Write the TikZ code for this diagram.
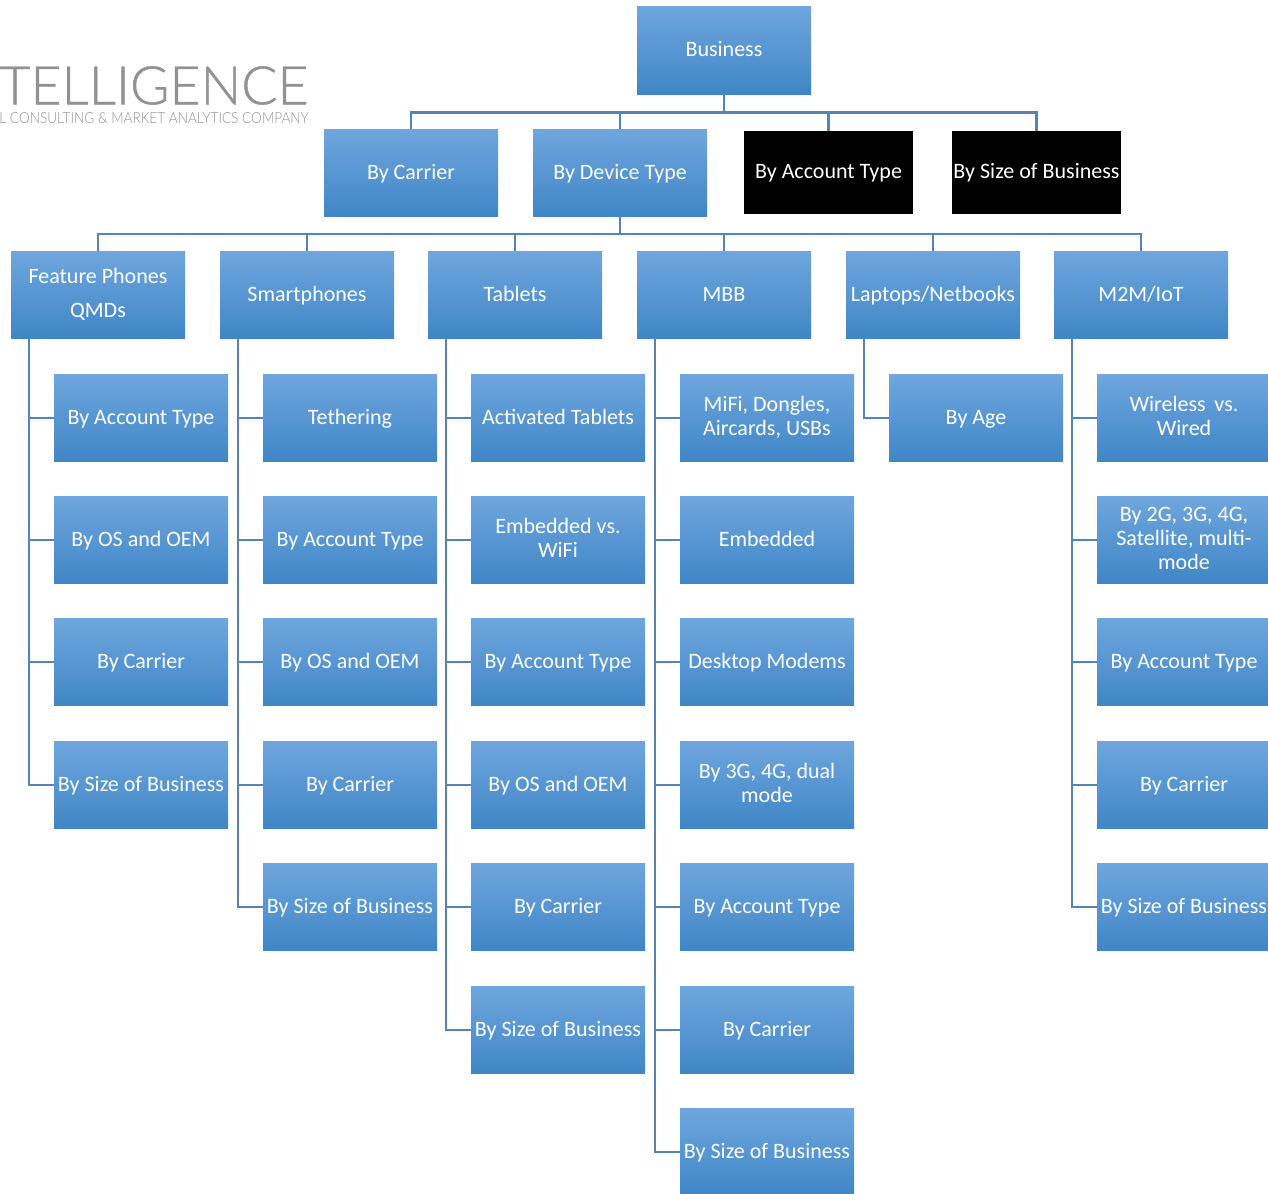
\documentclass[tikz,border=0pt]{standalone}
\usepackage{graphicx}
\usepackage{fontspec}
\setmainfont{Carlito}
\newfontfamily\logofont[FakeBold=0.8]{Lato Light}
\newfontfamily\logosubfont{Lato Light}
\definecolor{boxtop}{HTML}{6FA6DE}
\definecolor{boxbot}{HTML}{3F86C6}
\definecolor{linkcol}{HTML}{5285B5}
\definecolor{logocol}{HTML}{929294}
\tikzset{
  evenline/.style={execute at begin node={\rule{0pt}{12.1pt}},execute at end node={\vphantom{Ay}}},
  multi/.style={execute at begin node={\rule{0pt}{13.6pt}},execute at end node={\vphantom{Ay}}},
  box/.style={minimum width=130.5pt,minimum height=65.5pt,inner sep=0pt,top color=boxtop,bottom color=boxbot,text=white,align=center,evenline,font=\fontsize{16.5}{18}\selectfont},
  wide/.style={font=\fontsize{16.5}{25.5}\selectfont},
  blackbox/.style={minimum width=126.5pt,minimum height=62pt,inner sep=0pt,fill=black,text=white,align=center,evenline,font=\fontsize{16.5}{18}\selectfont},
  link/.style={draw=linkcol,line width=2pt},
}
\begin{document}
\begin{tikzpicture}[x=0.75pt,y=-0.75pt]
\clip (0,0) rectangle (1268,1193);
\fill[white] (0,0) rectangle (1268,1193);
% logo
\node[anchor=east,inner sep=0pt,text=logocol] (logo) at (309,85.5) {\logofont\resizebox{232pt}{28.5pt}{TELLIGENCE}};
\node[anchor=east,inner sep=0pt,text=logocol] (logosub) at (309,118.5) {\logosubfont\resizebox{232pt}{8.2pt}{L CONSULTING \& MARKET ANALYTICS COMPANY}};
% top
\node[box] (biz) at (724,50.5) {Business};
\node[box] (carrier) at (411,173) {By Carrier};
\node[box] (device) at (620,173) {By Device Type};
\node[blackbox] (account) at (828.5,172.5) {By Account Type};
\node[blackbox] (size) at (1036.5,172.5) {By Size of Business};
% second level
\node[box,wide,multi] (pa) at (98,295) {Feature Phones\\QMDs};
\node[box] (pb) at (307,295) {Smartphones};
\node[box] (pc) at (515,295) {Tablets};
\node[box] (pd) at (724,295) {MBB};
\node[box] (pe) at (933,295) {Laptops/Netbooks};
\node[box] (pf) at (1141,295) {M2M/IoT};
% col a
\node[box] (a1) at (141,418) {By Account Type};
\node[box] (a2) at (141,540) {By OS and OEM};
\node[box] (a3) at (141,662) {By Carrier};
\node[box] (a4) at (141,785) {By Size of Business};
% col b
\node[box] (b1) at (350,418) {Tethering};
\node[box] (b2) at (350,540) {By Account Type};
\node[box] (b3) at (350,662) {By OS and OEM};
\node[box] (b4) at (350,785) {By Carrier};
\node[box] (b5) at (350,907) {By Size of Business};
% col c
\node[box] (c1) at (558,418) {Activated Tablets};
\node[box,multi] (c2) at (558,540) {Embedded vs.\\WiFi};
\node[box] (c3) at (558,662) {By Account Type};
\node[box] (c4) at (558,785) {By OS and OEM};
\node[box] (c5) at (558,907) {By Carrier};
\node[box] (c6) at (558,1030) {By Size of Business};
% col d
\node[box,multi] (d1) at (767,418) {MiFi, Dongles,\\Aircards, USBs};
\node[box] (d2) at (767,540) {Embedded};
\node[box] (d3) at (767,662) {Desktop Modems};
\node[box,multi] (d4) at (767,785) {By 3G, 4G, dual\\mode};
\node[box] (d5) at (767,907) {By Account Type};
\node[box] (d6) at (767,1030) {By Carrier};
\node[box] (d7) at (767,1152) {By Size of Business};
% col e
\node[box] (e1) at (976,418) {By Age};
% col f
\node[box,multi] (f1) at (1184,418) {Wireless\, vs.\\Wired};
\node[box,multi] (f2) at (1184,540) {By 2G, 3G, 4G,\\Satellite, multi-\\mode};
\node[box] (f3) at (1184,662) {By Account Type};
\node[box] (f4) at (1184,785) {By Carrier};
\node[box] (f5) at (1184,907) {By Size of Business};
% connectors top
\foreach \t in {carrier,device,account,size}
  \draw[link] (biz.south) -- ++(0,18) -| (\t.north);
\foreach \t in {pa,pb,pc,pd,pe,pf}
  \draw[link] (device.south) -- ++(0,17) -| (\t.north);
% connectors children
\foreach \p/\c in {pa/a1,pa/a2,pa/a3,pa/a4,
                   pb/b1,pb/b2,pb/b3,pb/b4,pb/b5,
                   pc/c1,pc/c2,pc/c3,pc/c4,pc/c5,pc/c6,
                   pd/d1,pd/d2,pd/d3,pd/d4,pd/d5,pd/d6,pd/d7,
                   pe/e1,
                   pf/f1,pf/f2,pf/f3,pf/f4,pf/f5}
  \draw[link] ([xshift=13.6pt]\p.south west) |- (\c.west);
\end{tikzpicture}
\end{document}
